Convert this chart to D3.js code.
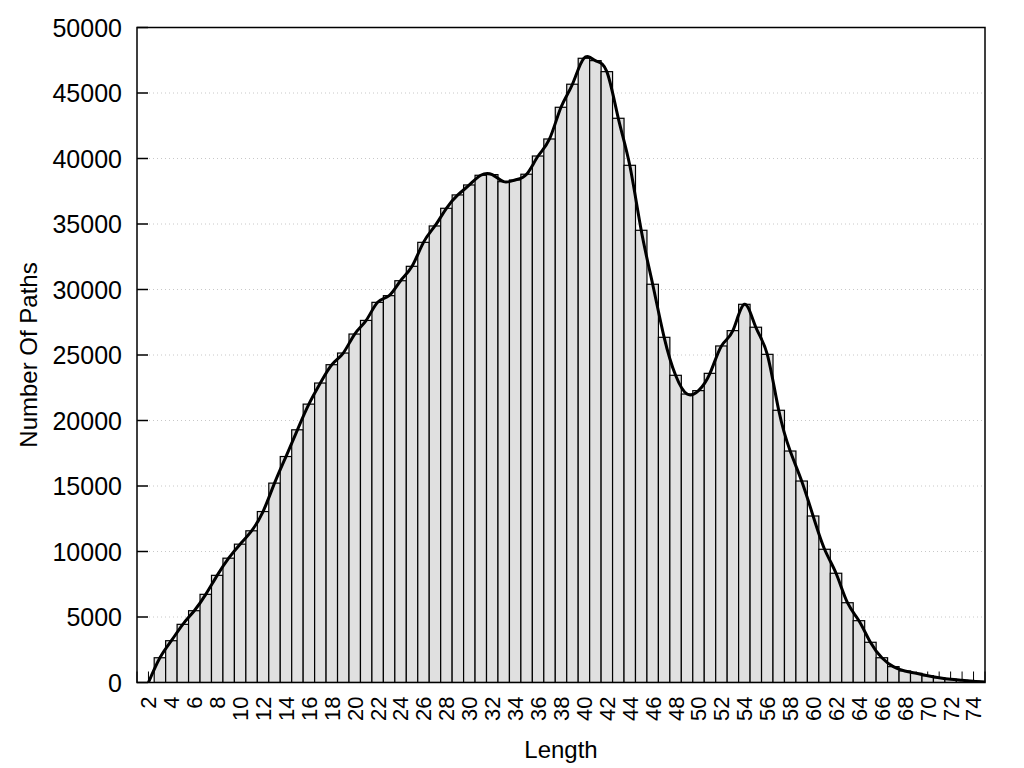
<!DOCTYPE html>
<html lang="en">
    <head>
	<meta charset="utf-8">
	<title>Path Lengths</title>
	<script src="https://cdn.jsdelivr.net/npm/d3@7/dist/d3.min.js" charset="utf-8"></script>
	<style>
	 body { margin: 0; background: #fff; }
	 text { font-family: Arial, "Liberation Sans", sans-serif; fill: #000; }
	</style>
    </head>
    <body>
	<script type="text/javascript">

	 //Data, one bar per path length
	 var lengths = [2, 3, 4, 5, 6, 7, 8, 9, 10, 11, 12, 13, 14, 15, 16, 17, 18, 19, 20,
			21, 22, 23, 24, 25, 26, 27, 28, 29, 30, 31, 32, 33, 34, 35, 36, 37, 38,
			39, 40, 41, 42, 43, 44, 45, 46, 47, 48, 49, 50, 51, 52, 53, 54, 55, 56,
			57, 58, 59, 60, 61, 62, 63, 64, 65, 66, 67, 68, 69, 70, 71, 72, 73, 74, 75];
	 var counts = [0, 1890, 3190, 4440, 5480, 6730, 8180, 9490, 10560, 11580, 13050, 15220,
		       17250, 19290, 21250, 22860, 24260, 25150, 26600, 27640, 29020, 29530,
		       30670, 31770, 33600, 34850, 36200, 37220, 37980, 38720, 38770, 38230,
		       38360, 38800, 40190, 41490, 43910, 45670, 47650, 47470, 46630, 43070,
		       39480, 34520, 30400, 26350, 23450, 22020, 22280, 23600, 25690, 26860,
		       28870, 27120, 25050, 20780, 17670, 15380, 12710, 10170, 8340, 6090,
		       4720, 3070, 1890, 1210, 880, 700, 520, 370, 250, 170, 90, 30];
	 var xTickLabels = d3.range(2, 75, 2);
	 var xTickMarks = d3.range(1, 76, 1);
	 var yTickLabels = [0, 5000, 10000, 15000, 20000, 25000, 30000, 35000, 40000, 45000, 50000];

	 var data = lengths.map(function (d, i) {
	     return {len: d, count: counts[i]};
	 });

	 //Display specifications
	 var margin = {top: 27.5, right: 39, bottom: 85.5, left: 137};
	 var width = 1024 - margin.left - margin.right;
	 var height = 768 - margin.top - margin.bottom;

	 var svg = d3.select("body")
		     .append("svg")
		     .attr("width", 1024)
		     .attr("height", 768)
		     .append("g")
		     .attr("transform", "translate(" + margin.left + "," + margin.top + ")");

	 svg.append("defs").append("clipPath")
	    .attr("id", "plotclip")
	    .append("rect")
	    .attr("width", width)
	    .attr("height", height);

	 //Scales
	 var xScale = d3.scaleLinear()
			.domain([1, 75])
			.range([0, width]);

	 var yScale = d3.scaleLinear()
			.domain([0, 50000])
			.range([height, 0]);

	 var unit = xScale(2) - xScale(1);

	 //Dotted grid lines
	 svg.append("g")
	    .selectAll("line")
	    .data(yTickLabels.slice(1, -1))
	    .enter()
	    .append("line")
	    .attr("x1", 12)
	    .attr("x2", width)
	    .attr("y1", function (d) { return yScale(d); })
	    .attr("y2", function (d) { return yScale(d); })
	    .style("stroke", "#c8c8c8")
	    .style("stroke-width", 1)
	    .style("stroke-dasharray", "1,3");

	 //Tick marks (drawn before the bars, so the bars hide them)
	 svg.append("g")
	    .selectAll("line")
	    .data(xTickMarks)
	    .enter()
	    .append("line")
	    .attr("x1", function (d) { return xScale(d); })
	    .attr("x2", function (d) { return xScale(d); })
	    .attr("y1", height)
	    .attr("y2", height - 11)
	    .style("stroke", "#000")
	    .style("stroke-width", 1);

	 svg.append("g")
	    .selectAll("line")
	    .data(yTickLabels)
	    .enter()
	    .append("line")
	    .attr("x1", 0)
	    .attr("x2", 11)
	    .attr("y1", function (d) { return yScale(d); })
	    .attr("y2", function (d) { return yScale(d); })
	    .style("stroke", "#000")
	    .style("stroke-width", 1.5);

	 //Bars
	 svg.append("g")
	    .attr("clip-path", "url(#plotclip)")
	    .selectAll("rect")
	    .data(data)
	    .enter()
	    .append("rect")
	    .attr("x", function (d) { return xScale(d.len - 0.5); })
	    .attr("y", function (d) { return yScale(d.count); })
	    .attr("width", unit)
	    .attr("height", function (d) { return height - yScale(d.count); })
	    .style("fill", "#e0e0e0")
	    .style("stroke", "#000")
	    .style("stroke-width", 1.2);

	 //Smoothed line through the bar tops
	 var line = d3.line()
		      .x(function (d) { return xScale(d.len); })
		      .y(function (d) { return yScale(d.count); })
		      .curve(d3.curveNatural);

	 svg.append("path")
	    .datum(data)
	    .attr("clip-path", "url(#plotclip)")
	    .attr("d", line)
	    .style("fill", "none")
	    .style("stroke", "#000")
	    .style("stroke-width", 3);

	 //Border
	 svg.append("rect")
	    .attr("width", width)
	    .attr("height", height)
	    .style("fill", "none")
	    .style("stroke", "#000")
	    .style("stroke-width", 1.5);

	 //Tick labels
	 svg.append("g")
	    .selectAll("text")
	    .data(yTickLabels)
	    .enter()
	    .append("text")
	    .attr("x", -15)
	    .attr("y", function (d) { return yScale(d); })
	    .attr("dy", "0.36em")
	    .attr("text-anchor", "end")
	    .style("font-size", "25px")
	    .text(function (d) { return d; });

	 svg.append("g")
	    .selectAll("text")
	    .data(xTickLabels)
	    .enter()
	    .append("text")
	    .attr("transform", function (d) {
		return "translate(" + xScale(d) + "," + (height + 14) + ") rotate(-90)";
	    })
	    .attr("dy", "0.36em")
	    .attr("text-anchor", "end")
	    .style("font-size", "22px")
	    .text(function (d) { return d; });

	 //Axis titles
	 svg.append("text")
	    .attr("x", width / 2)
	    .attr("y", height + 75)
	    .attr("text-anchor", "middle")
	    .style("font-size", "24px")
	    .text("Length");

	 svg.append("text")
	    .attr("transform", "translate(" + (-109) + "," + (height / 2) + ") rotate(-90)")
	    .attr("dy", "0.36em")
	    .attr("text-anchor", "middle")
	    .style("font-size", "24px")
	    .text("Number Of Paths");

	</script>
    </body>
</html>
